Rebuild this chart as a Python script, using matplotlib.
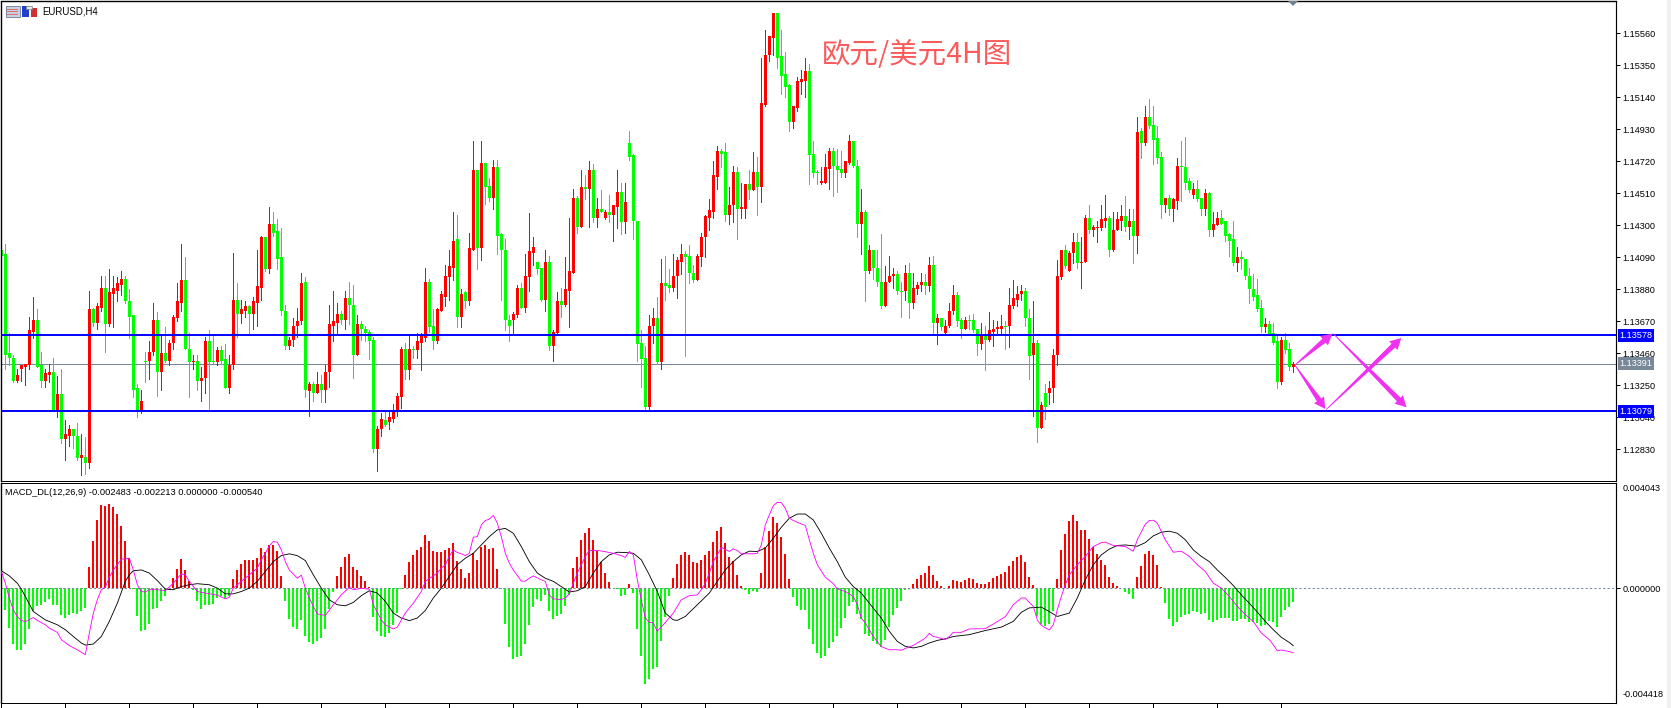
import numpy as np
import matplotlib
matplotlib.use("Agg")
import matplotlib.pyplot as plt
from matplotlib.patches import Polygon, Rectangle
from matplotlib.transforms import IdentityTransform

plt.rcParams["font.family"] = ["Liberation Sans", "DejaVu Sans"]

# EURUSD H4 candles, quoted in pips above 1.1200
BASE_PRICE = 1.12
PIP = 1e-4

body_top = [
    214,211,146,143,132,138,139,161,168,168, 138,133,134,134,119,119,93,96,96,92,
    79,78,175,175,177,189,189,186,189,192, 195,195,180,171,123,115,141,147,168,168,
    146,146,153,170,180,194,194,149,141,141, 130,154,154,141,148,148,142,138,181,181,
    175,177,177,180,190,222,222,231,231,226, 209,174,155,164,167,192,193,126,126,126,
    126,134,165,167,172,172,182,182,178,165, 165,162,160,155,96,103,102,104,109,118,
    149,149,149,149,154,158,193,193,164,175, 185,197,203,220,221,185,186,215,266,266,
    271,271,256,268,268,224,214,168,172,189, 189,197,213,216,206,202,206,206,160,180,
    180,188,200,248,248,255,255,266,266,241, 241,239,239,243,252,252,245,284,276,233,
    153,143,164,169,169,192,192,191,197,207, 211,211,210,199,210,222,236,240,263,279,
    279,278,243,265,265,242,257,257,265,265, 310,342,354,369,369,341,329,322,308,325,
    326,331,331,277,265,259,268,279,279,269, 267,272,285,285,269,239,239,214,214,202,
    193,193,197,198,198,187,199,199,189,191, 193,193,204,204,169,169,164,174,184,184,
    168,168,168,168,162,158,158,161,162,163, 164,164,178,182,185,187,187,169,153,153,
    112,120,123,145,197,214,214,212,219,219, 206,235,235,229,229,234,235,235,227,234,
    236,236,233,233,291,292,301,301,296,287, 275,248,248,247,269,269,268,259,254,254,
    248,251,251,231,235,235,233,224,221,209, 209,208,197,188,184,176,165,165,159,154,
    155,155,149,139,
]
body_bottom = [
    210,145,143,128,128,136,137,138,160,137, 128,128,132,109,109,90,90,92,92,77,
    77,74,74,166,166,176,165,165,185,187, 191,180,170,122,109,109,140,141,147,134,
    134,141,141,153,169,179,149,140,140,128, 128,130,140,140,140,141,123,123,138,172,
    172,174,172,172,179,189,201,201,225,208, 174,151,151,155,164,167,122,121,120,120,
    122,122,134,164,166,168,168,178,145,145, 162,159,154,83,83,96,99,101,103,109,
    117,135,135,148,148,153,156,163,154,154, 174,183,196,202,170,170,180,180,214,215,
    215,255,248,248,223,214,168,164,168,171, 176,176,196,212,201,181,181,151,151,159,
    178,178,187,199,229,229,254,254,235,235, 239,235,237,237,242,232,232,275,233,152,
    142,111,111,164,140,140,190,189,189,197, 206,209,199,194,194,209,222,235,239,262,
    277,237,237,243,241,241,241,253,253,255, 255,309,342,353,340,328,321,298,298,307,
    324,325,276,264,264,258,258,267,269,266, 264,264,271,269,231,231,200,200,202,193,
    177,177,193,197,187,186,187,179,179,188, 191,190,190,166,166,163,159,164,174,167,
    162,162,167,161,152,152,155,155,160,162, 162,163,164,177,181,185,169,144,145,97,
    97,111,120,123,145,196,203,200,212,205, 205,206,227,227,228,228,233,214,214,227,
    233,229,229,223,223,284,284,295,286,274, 243,243,241,241,246,268,258,253,250,247,
    241,241,227,227,230,231,223,220,205,205, 208,197,188,183,175,163,163,158,153,127,
    127,148,137,137,
]
highs = [
    214,218,159,145,136,138,139,170,183,175, 147,136,139,143,131,136,102,99,96,100,
    93,91,187,176,179,197,197,201,197,196, 200,197,188,171,126,122,147,154,179,173,
    158,163,155,171,192,218,209,159,145,145, 137,157,161,158,150,151,152,145,212,192,
    181,180,178,183,214,223,222,242,239,234, 228,178,157,169,176,199,196,127,127,134,
    132,138,178,187,179,174,187,193,191,171, 167,164,161,157,98,107,108,108,113,120,
    150,153,158,151,159,159,202,195,175,176, 187,204,214,239,237,188,187,225,285,266,
    285,271,261,273,273,225,221,171,173,191, 192,211,238,222,206,202,214,210,161,186,
    189,209,235,254,249,266,263,272,270,248, 253,240,250,243,266,258,258,292,277,233,
    161,151,171,176,183,208,210,201,211,209, 218,213,217,204,211,225,237,247,272,282,
    280,284,255,269,268,258,257,266,278,275, 340,358,354,369,369,358,344,323,308,327,
    332,340,336,285,266,268,277,281,281,280, 279,272,289,285,273,254,240,217,214,214,
    224,203,210,202,200,193,204,205,199,193, 199,198,209,210,172,169,168,179,191,186,
    169,170,171,172,162,166,164,173,168,167, 171,167,189,194,190,191,189,175,180,155,
    114,126,128,149,207,214,217,213,225,225, 222,237,243,230,233,243,250,236,239,239,
    243,249,241,241,301,294,308,313,308,295, 278,248,250,248,274,285,288,261,258,260,
    248,254,252,239,239,240,233,225,233,216, 213,208,202,198,195,181,169,167,166,158,
    157,159,153,140,
]
lows = [
    210,136,138,127,127,128,125,136,156,137, 124,124,127,109,104,87,76,85,84,76,
    66,67,71,164,162,174,147,164,163,180, 184,179,156,117,104,107,127,129,145,118,
    122,140,138,149,167,174,149,117,136,122, 115,120,109,139,138,139,123,120,136,157,
    166,170,159,162,164,181,200,199,223,201, 171,149,149,151,157,165,117,105,115,120,
    114,114,124,154,159,165,162,165,130,145, 155,154,142,81,69,92,98,96,101,105,
    110,129,129,143,143,135,154,160,149,153, 174,177,181,194,163,163,176,178,214,201,
    207,244,246,241,211,181,161,154,159,170, 176,173,187,204,198,180,174,148,141,158,
    170,177,163,199,225,229,247,229,232,229, 239,234,232,220,228,224,225,273,221,141,
    124,109,109,153,139,136,181,186,187,182, 198,144,192,193,194,203,209,227,235,254,
    268,233,231,232,221,235,235,247,253,237, 245,308,338,342,333,316,314,292,294,305,
    316,314,257,262,257,257,258,254,249,252, 262,262,270,268,222,211,180,199,195,190,
    176,177,193,189,185,170,181,169,176,185, 187,185,187,159,152,161,159,163,172,164,
    156,162,162,160,145,149,135,154,151,159, 158,149,150,176,177,181,164,129,105,88,
    97,103,113,114,138,195,202,200,205,202, 189,206,225,223,219,227,229,210,213,227,
    227,226,221,205,212,274,283,294,270,271, 235,239,237,233,241,246,254,252,248,246,
    237,237,223,223,230,231,220,210,204,200, 201,195,179,181,174,160,160,158,152,123,
    126,146,135,134,
]
# r = closed higher, g = closed lower
candle_side = (
    "ggggrrrrrg" "grrgrgrrgg" "rgrgrrgrrr" "rggggrgrrg" "rgrrrrggrg" "rrggrggrrg"
    "rrgrrrgrgg" "ggrrrrgrgr" "grrrrgrggr" "ggggrrgrrr" "rgrgrrrggr" "rrrrgrgrrg"
    "rggrggggrr" "grrrggrgrr" "grrrgrgrgr" "grgrrgrggg" "ggrrgrggrr" "rgggrrrrrr"
    "ggrrgrrgrg" "rrrrggggrr" "rrgggrrrgg" "grrggrgrgg" "grrrggrgrr" "rgrgrgrrrg"
    "grgggrgrrr" "rgrrrrggrg" "rgrrrrgrrg" "rrgrrrrgrr" "rgrgrgrggg" "grgrrgggrg"
    "grgrrggggr" "ggggggrggg" "rggr"
)

# MACD histogram, in units of 0.00001
macd_hist = [
    0,-83,-152,-214,-237,-237,-214,-156,-87,-68, -64,-52,-41,-64,-64,-102,-114,-102,-95,-99,
    -87,-76,82,182,262,320,316,324,312,285, 239,182,116,-3,-106,-164,-160,-137,-79,-76,
    -49,-29,-1,40,74,113,70,28,-6,-49, -79,-64,-64,-60,-37,-29,-41,-29,36,70,
    93,109,109,109,116,155,140,166,166,143, 47,-49,-118,-148,-156,-122,-183,-206,-214,-202,
    -191,-156,-79,-14,47,82,120,132,82,70, 47,28,5,-110,-164,-183,-187,-172,-141,-95,
    -3,51,101,128,147,159,205,182,143,138, 140,147,155,174,105,74,40,59,136,109,
    159,166,151,155,74,-4,-137,-225,-271,-264, -260,-214,-141,-72,-41,-49,-26,-87,-118,-106,
    -99,-68,-26,78,120,186,212,232,186,143, 101,59,24,0,-3,-29,-26,17,-18,-156,
    -260,-367,-348,-310,-302,-202,-110,-29,40,93, 128,140,128,101,97,109,128,143,178,220,
    236,174,120,105,51,9,-6,-22,-10,-14, 59,159,220,274,251,197,132,36,-33,-68,
    -83,-83,-156,-214,-248,-268,-260,-229,-206,-183, -152,-114,-68,-52,-99,-118,-175,-183,-202,-214,
    -227,-198,-148,-102,-76,-49,-6,0,17,36, 51,59,86,51,28,9,0,9,32,28,
    24,32,40,36,20,17,17,24,40,47, 55,63,86,105,120,128,101,44,13,-106,
    -137,-145,-137,-87,36,147,209,259,282,259, 224,224,189,159,132,109,90,44,20,9,
    0,-14,-22,-41,44,86,132,143,128,90, 5,-56,-118,-145,-129,-110,-102,-99,-87,-91,
    -99,-95,-122,-129,-122,-114,-114,-114,-125,-125, -118,-118,-129,-129,-133,-145,-141,-125,-129,-148,
    -110,-83,-72,-54,
]

# MACD main line: bar numbers and values, in units of 0.00001
main_bars = [
    0,1,2,3,4,5,6,8,9,11,12,14,15,17,19,21,22,23,24,25,26,27,28,30,32,33,34,35,36,37,39,41,43,45,46,47,
    49,51,54,56,57,58,60,62,64,65,66,67,68,69,70,71,72,74,75,76,77,78,79,81,83,85,87,88,90,92,93,95,96,
    98,99,101,103,105,106,107,109,110,111,112,113,114,115,116,117,118,119,120,121,122,123,124,125,126,127,
    128,130,131,132,133,135,136,137,138,140,141,142,143,144,145,146,147,149,151,153,155,156,157,158,159,
    160,161,162,163,164,166,168,170,172,174,175,176,177,178,179,180,182,183,184,185,188,189,190,191,192,
    193,194,195,196,197,198,199,201,202,203,204,206,208,209,211,213,214,215,216,218,220,222,224,225,226,
    228,230,231,232,233,234,236,237,238,240,242,246,248,251,253,255,256,257,258,259,260,262,263,264,265,
    266,267,269,271,273,275,276,278,281,283,284,286,287,288,289,291,293,295,297,299,301,303,305,307,309,
    311,313,315,317,318,319,320,321,322,323,
]
main_line = [
    64,19,-38,-83,-109,-124,-129,-113,-124,-141,-154,-170,-198,-221,-237,-256,-173,-96,-45,-6,4,42,70,111,115,70,13,-13,-15,-6,-6,-10,19,55,51,26,
    -13,-19,-27,-41,-35,0,26,51,77,109,134,163,179,177,147,102,70,38,50,0,-38,-70,-99,-105,-64,-26,3,-6,-1,-4,-64,-122,-141,
    -157,-150,-96,-58,-13,26,37,58,77,90,122,147,137,132,125,134,196,198,243,260,265,280,250,198,134,96,
    70,27,27,38,47,32,26,-26,-41,-44,-38,-22,19,58,90,122,145,145,140,134,125,118,141,128,32,
    -45,-115,-131,-134,-166,-132,-96,-45,-29,-26,-6,19,58,102,128,157,141,151,145,132,132,134,166,243,282,
    317,330,329,307,269,260,253,241,186,134,90,42,17,-3,-13,-32,-64,-115,-134,-186,-225,-237,-237,-239,-232,
    -220,-202,-192,-174,-186,-189,-198,-186,-170,-170,-157,-156,-138,-110,-64,-38,-38,-55,-70,-122,-143,-161,-141,-83,-32,
    13,51,90,122,160,175,177,164,160,142,186,246,260,261,250,186,138,142,122,90,64,19,0,-32,-70,
    -102,-128,-173,-198,-218,-241,-238,-241,-244,-248.3,
]

# MACD signal line: bar numbers and values, in units of 0.00001
signal_bars = [
    0,2,4,5,6,8,11,14,16,18,20,21,23,25,27,29,31,32,33,35,37,39,41,43,45,47,49,52,54,56,58,60,62,64,66,68,70,
    72,74,76,78,80,82,84,86,88,90,92,94,96,98,100,102,104,106,108,110,112,114,116,118,120,122,124,126,128,130,
    132,134,136,138,140,142,144,146,148,150,152,154,156,158,160,162,164,166,168,169,171,174,177,179,181,183,185,
    187,189,191,193,195,197,199,201,203,205,207,209,211,213,215,217,219,220,222,224,226,228,230,232,234,236,238,
    242,246,250,253,255,257,260,262,264,267,269,271,273,275,277,279,281,284,286,288,290,292,294,296,298,300,302,
    304,306,308,310,312,314,316,318,320,322,323,
]
signal_line = [
    67,47,19,-4,-32,-90,-122,-141,-160,-186,-211,-219,-215,-186,-128,-58,26,51,67,70,58,29,-4,-6,6,13,17,13,0,-22,-22,-13,0,26,64,102,125,
    132,125,106,51,0,-45,-64,-68,-55,-29,-10,-19,-51,-96,-115,-125,-115,-86,-38,0,45,90,115,134,166,198,224,230,211,160,
    102,58,38,26,6,-15,-10,6,58,102,128,138,137,134,109,51,-13,-96,-122,-124,-109,-64,-19,26,70,102,128,
    142,141,154,192,234,269,285,285,262,211,154,102,42,6,-19,-58,-96,-115,-166,-205,-224,-230,-224,-211,-201,-195,-186,
    -179,-163,-150,-128,-93,-76,-73,-90,-109,-96,-38,32,90,128,150,164,166,161,175,201,215,219,211,186,147,122,102,
    70,41,10,-26,-58,-92,-128,-160,-189,-209,-221.3,
]

main_ticks = [1.15560,1.15350,1.15140,1.14930,1.14720,1.14510,1.14300,1.14090,
              1.13880,1.13670,1.13460,1.13250,1.13040,1.12830]
support_level = 1.13079
resistance_level = 1.13578
last_price = 1.13391
macd_top = 0.004043
macd_bottom = -0.004418

# Projected paths from the last bar: (bar, price) start and end of each arrow
path_up = ((323.4, 1.13383), (332.8, 1.13589))
path_down = ((323.4, 1.13383), (331.0, 1.13095))
path_rebound = ((331.2, 1.13090), (350.0, 1.13560))
path_drop = ((333.0, 1.13589), (351.3, 1.13106))

RED = "#ff0000"
GREEN = "#00ff00"
BLUE = "#0000ff"
SLATE = "#778899"
MAGENTA = "#f032f0"

W, H = 1671, 708
fig = plt.figure(figsize=(W / 100, H / 100), dpi=100, facecolor="white")


def pane(top, bottom):
    return fig.add_axes([1 / W, (H - bottom) / H, 1615.5 / W, (bottom - top) / H])


ax = pane(1.5, 481)
ax_macd = pane(483, 703)

top = BASE_PRICE + np.array(body_top) * PIP
bot = BASE_PRICE + np.array(body_bottom) * PIP
hi = BASE_PRICE + np.array(highs) * PIP
lo = BASE_PRICE + np.array(lows) * PIP
bars = np.arange(len(top))
colors = [RED if s == "r" else GREEN for s in candle_side]

XLIM = (-0.08, 403.8)
ax.set_xlim(*XLIM)
ax.set_ylim(1.12622, 1.157687)
ax.vlines(bars, lo, hi, colors=colors, linewidth=0.72, antialiased=False, zorder=2)
ax.bar(bars, np.maximum(top - bot, 1e-5), bottom=bot, width=0.74, color=colors,
       linewidth=0, antialiased=False, zorder=2.2)

ax.axhline(resistance_level, color=BLUE, lw=1.4, zorder=4)
ax.axhline(support_level, color=BLUE, lw=1.4, zorder=4)
ax.axhline(last_price, color=SLATE, lw=0.72, zorder=1.5)

for a in (ax, ax_macd):
    for s in a.spines.values():
        s.set_linewidth(0.72)
    a.spines["right"].set_linewidth(0.85)
    a.yaxis.tick_right()
ax.spines["top"].set_linewidth(1.0)
ax.spines["left"].set_linewidth(1.0)
ax_macd.spines["left"].set_linewidth(1.0)

ax.set_xticks([])
ax.set_yticks(main_ticks)
ax.set_yticklabels([f"{t:.5f}" for t in main_ticks])
ax.tick_params(axis="y", length=3.2, width=0.72, pad=1.0, labelsize=6.6, labelcolor="black")

# Price tags on the right scale
for level, col in ((resistance_level, BLUE), (support_level, BLUE), (last_price, SLATE)):
    ax.text(1.0019, level, f"{level:.5f}", transform=ax.get_yaxis_transform(),
            color="white", fontsize=6.6, va="center", ha="left", clip_on=False, zorder=8,
            bbox=dict(boxstyle="square,pad=0.2", fc=col, ec="none"))

# MACD pane
ax_macd.set_xlim(*XLIM)
ax_macd.set_ylim(macd_bottom, macd_top)
hist = np.array(macd_hist) * 1e-5
hist_colors = [RED if v > 0 else GREEN for v in macd_hist]
ax_macd.bar(bars, hist, width=0.5, color=hist_colors, linewidth=0, antialiased=False, zorder=2)
ax_macd.axhline(0, color=SLATE, lw=0.72, dashes=(2.2, 2.2), zorder=2.5)
ax_macd.plot(signal_bars, np.array(signal_line) * 1e-5, color="black", lw=0.62, zorder=3)
ax_macd.plot(main_bars, np.array(main_line) * 1e-5, color="#ff00ff", lw=0.62, zorder=3.2)

ax_macd.set_xticks(np.arange(0, len(bars), 16))
ax_macd.set_xticklabels([])
ax_macd.tick_params(axis="x", length=3.6, width=0.72)
ax_macd.set_yticks([0])
ax_macd.set_yticklabels(["0.000000"])
ax_macd.tick_params(axis="y", length=3.2, width=0.72, pad=1.0, labelsize=6.6)
for value, frac_y, txt in ((macd_top, 0.977, "0.004043"), (macd_bottom, 0.037, "-0.004418")):
    ax_macd.text(1.0036, frac_y, txt, transform=ax_macd.transAxes, fontsize=6.6,
                 va="center", ha="left", clip_on=False)
ax_macd.text(0.0025, 0.958, "MACD_DL(12,26,9) -0.002483 -0.002213 0.000000 -0.000540",
             transform=ax_macd.transAxes, fontsize=6.7, va="center", ha="left")

fig.canvas.draw()


def wedge_arrow(path):
    # Tapered arrow, narrow at the tail and widening to the head
    (x0, y0), (x1, y1) = ax.transData.transform(path)
    d = np.array([x1 - x0, y1 - y0])
    length = np.hypot(*d)
    u = d / length
    n = np.array([-u[1], u[0]])
    tail = np.array([x0, y0])
    tip = np.array([x1, y1])
    neck = tip - u * 11
    pts = [tail + n * 0.4, neck + n * 2.6, neck + n * 6.0, tip,
           neck - n * 6.0, neck - n * 2.6, tail - n * 0.4]
    ax.add_patch(Polygon(pts, closed=True, transform=IdentityTransform(), fc=MAGENTA,
                         ec="none", zorder=6, clip_on=False))


for p in (path_up, path_down, path_rebound, path_drop):
    wedge_arrow(p)

# Chart heading
fig.text(822 / W, 1 - 55 / H, "欧元/美元4H图", color="#fa5a5a", fontsize=20.5,
         family=["Noto Sans CJK SC", "DejaVu Sans"], va="center", ha="left", zorder=7)
fig.text(42 / W, 1 - 11.5 / H, "EURUSD,H4", fontsize=6.9, va="center", ha="left")

# Overlay in pixel units for window furniture
overlay = fig.add_axes([0, 0, 1, 1], facecolor="none", zorder=10)
overlay.set_xlim(0, W)
overlay.set_ylim(H, 0)
overlay.axis("off")
overlay.add_patch(Rectangle((1666.5, 0), 5, H, fc="#f0f0f0", ec="none"))
overlay.add_patch(Polygon([(1288, 1), (1298, 1), (1293, 6)], fc="#6f8296", ec="none"))
# Toolbar glyphs beside the symbol name
overlay.add_patch(Rectangle((5.5, 5.5), 14, 11.5, fc="#c8d0e8", ec="#8088a0", lw=0.7))
for y in (8.5, 11, 13.5):
    overlay.add_patch(Rectangle((7, y), 11, 1.4, fc="#e07060", ec="none"))
overlay.add_patch(Rectangle((22, 6), 7, 11, fc="#2040d0", ec="none"))
overlay.add_patch(Rectangle((30.5, 8), 6.5, 9, fc="#d03030", ec="none"))
overlay.add_patch(Rectangle((26, 5.5), 5.5, 3.5, fc="#e8e8e8", ec="#808080", lw=0.5))

fig.savefig("out.png", dpi=100)
